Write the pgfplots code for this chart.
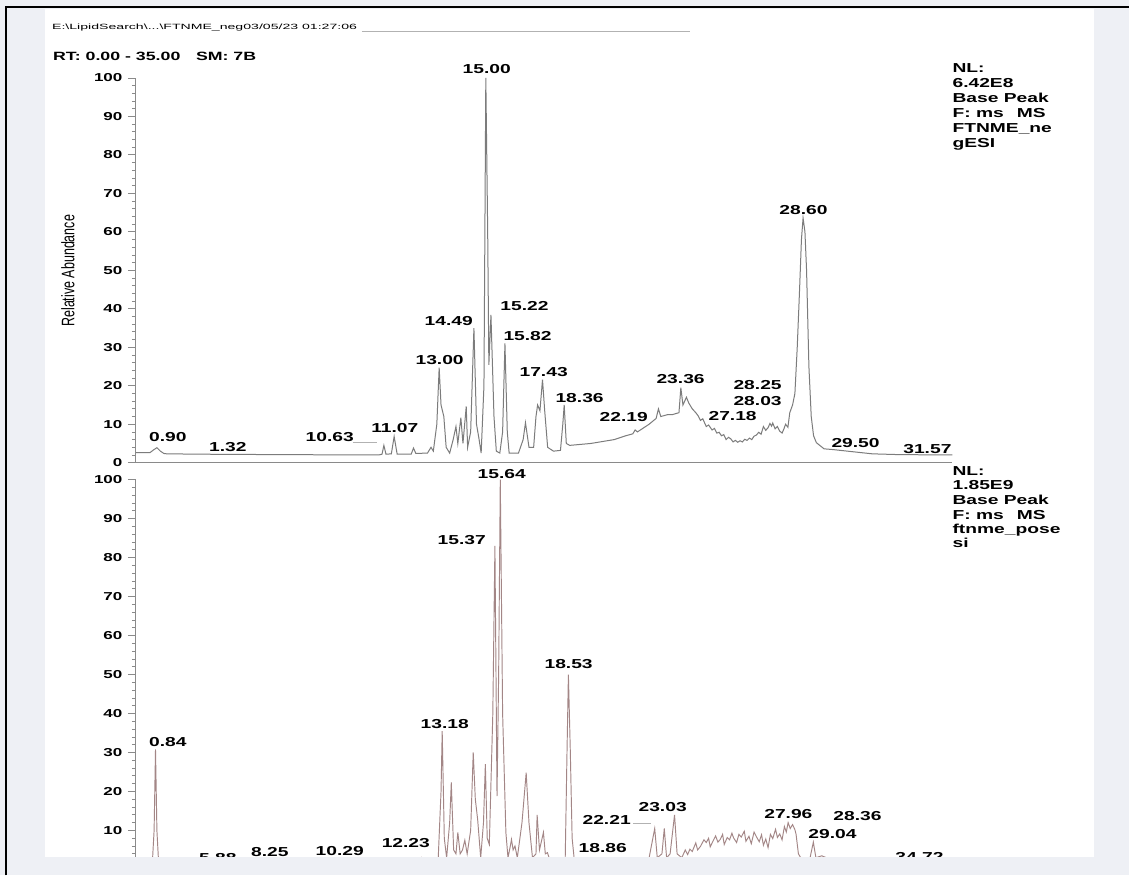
\documentclass[border=0pt]{standalone}
\usepackage{fontspec}
\setmainfont{Liberation Sans}[FakeStretch=1.48]
\newfontfamily\plainfont{Liberation Sans}
\usepackage{graphicx}
\usepackage{pgfplots}
\pgfplotsset{compat=1.18}
\definecolor{bg}{HTML}{EEF0F5}
\definecolor{trA}{HTML}{7C7C7C}
\definecolor{trB}{HTML}{A38686}
\definecolor{ax}{HTML}{8A8A8A}
\tikzset{pk/.style={font=\fontsize{13}{13}\selectfont\bfseries, inner sep=0pt, anchor=center},
  nl/.style={font=\fontsize{13}{13}\selectfont\bfseries, inner sep=0pt, anchor=base west}}
\pgfplotsset{chrom/.style={scale only axis, width=817pt, xmin=0, xmax=35, ymin=0, ymax=100,
  axis lines=left, axis line style={-, ax, line width=1.1pt}, xtick=\empty,
  ytick={0,10,...,100}, minor y tick num=4, tick align=outside,
  major tick length=8pt, minor tick length=4pt, tick style={ax, line width=0.8pt},
  yticklabel style={font=\fontsize{11.5}{12}\selectfont\bfseries, xshift=-2pt},
  /pgf/number format/assume math mode=true, clip mode=individual, anchor=south west}}
\begin{document}
\begin{tikzpicture}[x=1pt,y=1pt]
\fill[bg] (0,0) rectangle (1130,876);
\fill[white] (45,18) rectangle (1095,867);
% header
\node[anchor=west, inner sep=0] at (52,848) {\resizebox{305pt}{5.5pt}{\plainfont E:\textbackslash LipidSearch\textbackslash ...\textbackslash FTNME\_neg03/05/23 01:27:06}};
\draw[gray!60, line width=0.8pt] (362,845) -- (690,845);
\node[anchor=base west, inner sep=0, font=\fontsize{12}{12}\selectfont\bfseries] at (53,815) {RT: 0.00 - 35.00\hspace{1.3em}SM: 7B};
\node[rotate=90, inner sep=0] at (68,605) {\scalebox{1}[1.45]{\plainfont\fontsize{12.5}{13}\selectfont Relative Abundance}};
% top panel
\begin{axis}[chrom, at={(136pt,413pt)}, height=385pt]
\addplot[trA, line width=1pt] coordinates {
(0,2.6) (0.6,2.6) (0.75,3.3) (0.9,3.9) (1.05,3.0) (1.2,2.4) (1.32,2.3) (3,2.2) (6,2.1)
(10.4,2.0) (10.55,2.2) (10.63,4.5) (10.72,2.2) (10.95,2.3) (11.07,6.8) (11.2,2.2)
(11.8,2.2) (11.9,3.8) (12.0,2.4) (12.5,2.5) (12.65,4.0) (12.75,3.0) (12.9,10) (13.0,24.7)
(13.08,15) (13.2,12) (13.3,4) (13.45,2.5) (13.6,6) (13.72,9.4) (13.8,5) (13.93,11.7)
(14.02,5) (14.16,14.6) (14.22,4) (14.35,8) (14.49,35) (14.6,10) (14.7,6.5) (14.8,2.5)
(14.92,20) (15.0,100) (15.08,60) (15.13,25.4) (15.22,38.4) (15.35,12) (15.45,3) (15.6,2.5)
(15.72,8) (15.82,31) (15.92,8) (16.0,2.5) (16.4,2.5) (16.6,6) (16.7,10.4) (16.85,4)
(17.05,4) (17.15,12) (17.22,15) (17.32,13.5) (17.43,21.6) (17.52,13.8) (17.65,4) (17.9,3)
(18.2,3.2) (18.3,10) (18.36,15) (18.45,5) (18.6,4.5) (19.5,5) (20.5,6) (21.0,7) (21.3,7.5)
(21.4,8.5) (21.5,8) (22.0,10) (22.3,11.5) (22.4,14) (22.5,12) (22.8,12.5) (23.0,12.5)
(23.28,13) (23.36,19.5) (23.45,15) (23.6,17) (23.7,15.5) (23.85,14)
(24.0,13) (24.1,12.2) (24.2,11) (24.3,11.4) (24.45,9.4) (24.55,9.8) (24.7,8.5) (24.8,8.9)
(24.9,7.7) (25.0,7.9) (25.1,7) (25.2,7.3) (25.3,6.0) (25.4,6.6) (25.5,6.2) (25.6,5.4)
(25.7,5.8) (25.8,5.3) (25.9,5.7) (26.0,5.4) (26.1,6.1) (26.2,5.8) (26.3,6.4) (26.4,6.0)
(26.5,6.9) (26.6,7.2) (26.7,7.9) (26.8,7.4) (26.9,9.4) (27.0,8.4) (27.1,9.1) (27.18,10.2)
(27.25,9.5) (27.3,10.3) (27.4,8.8) (27.5,9.4) (27.6,8.2) (27.7,7.7) (27.78,8.8) (27.85,10)
(27.95,9.2) (28.03,13) (28.15,15) (28.25,18)
(28.35,30) (28.45,45) (28.53,58) (28.6,63.6) (28.68,60) (28.75,50) (28.85,25) (28.95,12)
(29.05,7) (29.17,5.2) (29.5,3.6) (29.9,3.4) (30.5,3) (31.57,2.3) (32.7,2.1) (35,2.0)
};
\node[pk] at (axis cs:1.37,6.75) {0.90};
\node[pk] at (axis cs:3.94,4.16) {1.32};
\node[pk] at (axis cs:8.31,6.75) {10.63};
\node[pk] at (axis cs:11.10,9.09) {11.07};
\node[pk] at (axis cs:13.02,26.75) {13.00};
\node[pk] at (axis cs:13.41,36.88) {14.49};
\node[pk] at (axis cs:15.04,102.3) {15.00};
\node[pk] at (axis cs:16.66,40.78) {15.22};
\node[pk] at (axis cs:16.79,32.99) {15.82};
\node[pk] at (axis cs:17.48,23.64) {17.43};
\node[pk] at (axis cs:19.02,16.88) {18.36};
\node[pk] at (axis cs:20.91,11.95) {22.19};
\node[pk] at (axis cs:23.35,21.82) {23.36};
\node[pk] at (axis cs:26.65,20.26) {28.25};
\node[pk] at (axis cs:26.65,16.10) {28.03};
\node[pk] at (axis cs:25.58,12.21) {27.18};
\node[pk] at (axis cs:28.62,65.71) {28.60};
\node[pk] at (axis cs:30.85,5.19) {29.50};
\node[pk] at (axis cs:33.93,3.64) {31.57};
\draw[gray!60, line width=0.7pt] (axis cs:9.3,5.2) -- (axis cs:10.35,5.2);
\end{axis}
% bottom panel
\begin{axis}[chrom, at={(136pt,6pt)}, height=390pt]
\addplot[trB, line width=0.95pt] coordinates {
(0,1.0) (0.70,1.2) (0.78,10) (0.84,30.8) (0.90,10) (0.98,1.0) (5.9,1.0) (12.1,1.2)
(12.23,3.0) (12.35,1.2) (12.95,1.5) (13.08,20) (13.13,35.5) (13.22,8) (13.32,3) (13.45,12)
(13.52,22.3) (13.62,5) (13.72,4) (13.80,9.5) (13.90,4) (14.0,5) (14.1,7.5) (14.2,4)
(14.35,10) (14.46,30) (14.55,18) (14.65,12.8) (14.78,3) (14.90,12) (14.98,27) (15.06,8)
(15.15,6.4) (15.30,40) (15.39,83) (15.48,18.8) (15.55,50) (15.62,100) (15.72,40) (15.86,9.5)
(15.95,3) (16.05,6) (16.10,7.7) (16.17,5) (16.25,6) (16.35,3) (16.55,12) (16.73,24.8)
(16.85,12) (17.0,3) (17.15,4) (17.2,14) (17.3,5) (17.47,9.5) (17.55,4) (17.64,4.3)
(17.8,1.5) (18.4,1.5) (18.48,30) (18.54,50) (18.62,30.8) (18.70,8) (18.8,2) (19.3,2.5)
(20.5,1.5) (21.8,1.8) (22.0,3) (22.24,10.5) (22.35,3) (22.55,4) (22.65,10.5) (22.75,3)
(22.9,4) (23.09,14) (23.2,4) (23.4,3) (23.55,5.0)
(23.65,3.8) (23.75,5.2) (23.85,4.6) (24.0,6.8) (24.08,5.0) (24.2,5.9) (24.35,7.6) (24.45,6.9)
(24.55,8.0) (24.62,5.8) (24.75,7.4) (24.85,8.6) (24.95,7.0) (25.05,7.7) (25.15,9.0) (25.22,6.4)
(25.35,8.2) (25.45,7.6) (25.55,9.3) (25.62,8.1) (25.75,6.9) (25.85,9.0) (25.95,8.3) (26.08,9.8)
(26.15,7.2) (26.28,8.5) (26.38,6.6) (26.5,9.6) (26.6,8.4) (26.72,7.1) (26.82,8.9) (26.9,6.2)
(27.0,7.8) (27.1,5.6) (27.2,9.0) (27.3,7.9) (27.42,10.3) (27.5,8.2) (27.6,9.1) (27.7,7.6)
(27.8,11.0) (27.88,9.6) (27.96,12) (28.05,10.5) (28.15,11.5) (28.25,10.2) (28.3,9)
(28.4,4) (28.6,2) (28.9,3) (29.04,7) (29.15,3) (29.4,3.5) (29.6,3) (30.0,2) (30.5,1.0) (35,1.0)
};
\node[pk] at (axis cs:15.68,101.5) {15.64};
\node[pk] at (axis cs:13.97,84.6) {15.37};
\node[pk] at (axis cs:18.55,52.6) {18.53};
\node[pk] at (axis cs:13.24,37.4) {13.18};
\node[pk] at (axis cs:1.37,32.8) {0.84};
\node[pk] at (axis cs:3.51,2.8) {5.88};
\node[pk] at (axis cs:5.74,4.4) {8.25};
\node[pk] at (axis cs:8.74,4.6) {10.29};
\node[pk] at (axis cs:11.57,6.7) {12.23};
\node[pk] at (axis cs:20.01,5.6) {18.86};
\node[pk] at (axis cs:20.18,12.8) {22.21};
\node[pk] at (axis cs:22.58,15.9) {23.03};
\node[pk] at (axis cs:27.97,14.1) {27.96};
\node[pk] at (axis cs:30.93,13.6) {28.36};
\node[pk] at (axis cs:29.86,9.0) {29.04};
\node[pk] at (axis cs:33.59,3.3) {34.72};
\draw[gray!60, line width=0.7pt] (axis cs:21.3,11.8) -- (axis cs:22.1,11.8);
\end{axis}
% right NL texts
\node[nl] at (953,803) {NL:};
\node[nl] at (953,788) {6.42E8};
\node[nl] at (953,773) {Base Peak};
\node[nl] at (953,758) {F: ms\hspace{1em}MS};
\node[nl] at (953,743) {FTNME\_ne};
\node[nl] at (953,728) {gESI};
\node[nl] at (953,400) {NL:};
\node[nl] at (953,386) {1.85E9};
\node[nl] at (953,371) {Base Peak};
\node[nl] at (953,356) {F: ms\hspace{1em}MS};
\node[nl] at (953,342) {ftnme\_pose};
\node[nl] at (953,328) {si};
% crop band and frame
\fill[bg] (8,0) rectangle (1130,18);
\draw[black, line width=1.5pt] (6,0) -- (6,869) -- (1130,869);
\end{tikzpicture}
\end{document}
